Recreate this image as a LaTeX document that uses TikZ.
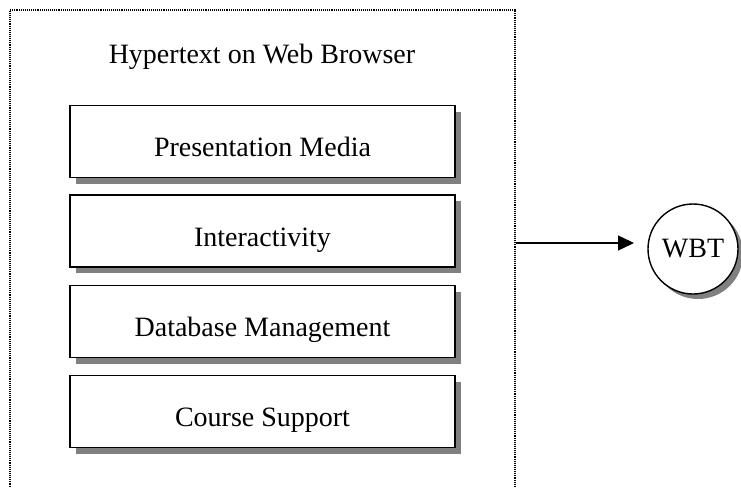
\documentclass[tikz,border=0pt]{standalone}
\usepackage{fontspec}
\setmainfont{Liberation Serif}
\usetikzlibrary{shadows,arrows.meta}
\tikzset{
  layerbox/.style={draw=black, line width=1.6pt, fill=white, minimum width=385pt, minimum height=72pt, inner sep=0pt,
    text height=30pt, text depth=0pt, font=\fontsize{28}{30}\selectfont,
    drop shadow={shadow xshift=6pt, shadow yshift=-6pt, fill=black!50, opacity=1}},
  framebox/.style={draw=black, line width=1.1pt, dash pattern=on 1.1pt off 1pt, minimum width=505pt, minimum height=520pt, inner sep=0pt},
  roundnode/.style={circle, draw=black, line width=1.4pt, fill=white, minimum size=90pt, inner sep=0pt, font=\fontsize{28}{30}\selectfont,
    drop shadow={shadow xshift=5pt, shadow yshift=-5pt, fill=black!50, opacity=1}},
  titletext/.style={font=\fontsize{28}{30}\selectfont, inner sep=0pt},
  conn/.style={line width=1.4pt, -{Triangle[length=16pt, width=15pt]}}
}
\begin{document}
\begin{tikzpicture}[x=1pt, y=-1pt]
\useasboundingbox (0,0) rectangle (741,487);
\clip (0,0) rectangle (741,487);
\fill[white] (0,0) rectangle (741,487);
\node[framebox] (outer) at (262.5,270) {};
\node[titletext] (title) at (262,57) {Hypertext on Web Browser};
\node[layerbox] (pm) at (262.5,141.5) {Presentation Media};
\node[layerbox] (ia) at (262.5,231) {Interactivity};
\node[layerbox] (db) at (262.5,321.5) {Database Management};
\node[layerbox] (cs) at (262.5,411.5) {Course Support};
\node[roundnode] (wbt) at (693,249) {WBT};
\coordinate (start) at (outer.east |- 0,243);
\coordinate (tip) at (634,243);
\draw[conn] (start) -- (tip);
\end{tikzpicture}
\end{document}
